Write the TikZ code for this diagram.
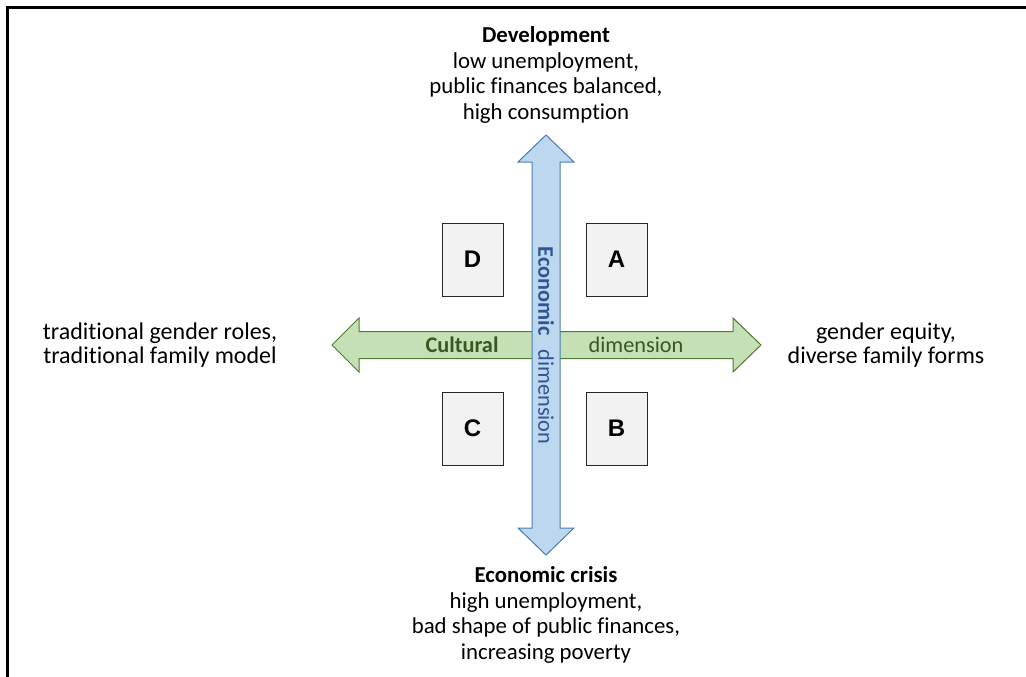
\documentclass[tikz,border=0pt]{standalone}
\usepackage{fontspec}
\setmainfont{Carlito}[Ligatures={NoCommon}]
\newfontfamily\arialf{Liberation Sans}
\usetikzlibrary{positioning}
\definecolor{gfill}{HTML}{C5E0B4}
\definecolor{gline}{HTML}{4E7A32}
\definecolor{gtext}{HTML}{385723}
\definecolor{bfill}{HTML}{BDD7EE}
\definecolor{bline}{HTML}{4A7EB0}
\definecolor{btext}{HTML}{2F5597}
\definecolor{boxfill}{HTML}{F2F2F2}
\tikzset{
  lbl/.style={font=\fontsize{22.8}{25.5}\selectfont, align=center, inner sep=0pt},
  sidelbl/.style={font=\fontsize{24}{24.5}\selectfont, align=center, inner sep=0pt},
  axlbl/.style={inner sep=0pt, font=\fontsize{22.3}{25.5}\selectfont},
  quad/.style={draw=black!85, line width=1pt, fill=boxfill, minimum width=61pt, minimum height=73pt, inner sep=0pt, font=\arialf\bfseries\fontsize{24}{28}\selectfont},
  garrow/.style={draw=gline, fill=gfill, line width=1pt, line join=miter},
  barrow/.style={draw=bline, fill=bfill, line width=1pt, line join=miter},
  frame/.style={line width=2.3pt, line cap=rect}
}
\begin{document}
\begin{tikzpicture}[x=1pt,y=-1pt]
\useasboundingbox (0,0) rectangle (1026,677);
\draw[frame] (1026,7.5) -- (7.5,7.5) -- (7.5,677);
% horizontal (cultural) arrow
\draw[garrow] (332,345) -- (359,318) -- (359,331.5) -- (733,331.5) -- (733,318) -- (761,345)
  -- (733,372) -- (733,358.5) -- (359,358.5) -- (359,372) -- cycle;
% vertical (economic) arrow
\draw[barrow] (546,135) -- (574,162) -- (560,162) -- (560,528) -- (574,528) -- (546,555)
  -- (518,528) -- (532,528) -- (532,162) -- (518,162) -- cycle;
% arrow labels
\node[axlbl, text=gtext, font=\bfseries\fontsize{22.3}{25.5}\selectfont] (cult) at (462,345) {Cultural};
\node[axlbl, text=gtext] (cdim) at (636,345) {dimension};
\node[axlbl, text=btext, rotate=-90, font=\bfseries\fontsize{22.3}{25.5}\selectfont] (econ) at (546,291) {Economic};
\node[axlbl, text=btext, rotate=-90] (edim) at (546,397) {dimension};
% quadrant boxes
\node[quad] (D) at (472.5,259.5) {D};
\node[quad] (A) at (616.5,259.5) {A};
\node[quad] (C) at (472.5,428.5) {C};
\node[quad] (B) at (616.5,428.5) {B};
% pole labels
\node[lbl, anchor=north] (dev) at (546,26.5) {\textbf{Development}\\low unemployment,\\public finances balanced,\\high consumption};
\node[lbl, anchor=north] (crisis) at (546,566.5) {\textbf{Economic crisis}\\high unemployment,\\bad shape of public finances,\\increasing poverty};
\node[sidelbl] (trad) at (160,345) {traditional gender roles,\\traditional family model};
\node[sidelbl] (eq) at (886,345) {gender equity,\\diverse family forms};
\end{tikzpicture}
\end{document}
